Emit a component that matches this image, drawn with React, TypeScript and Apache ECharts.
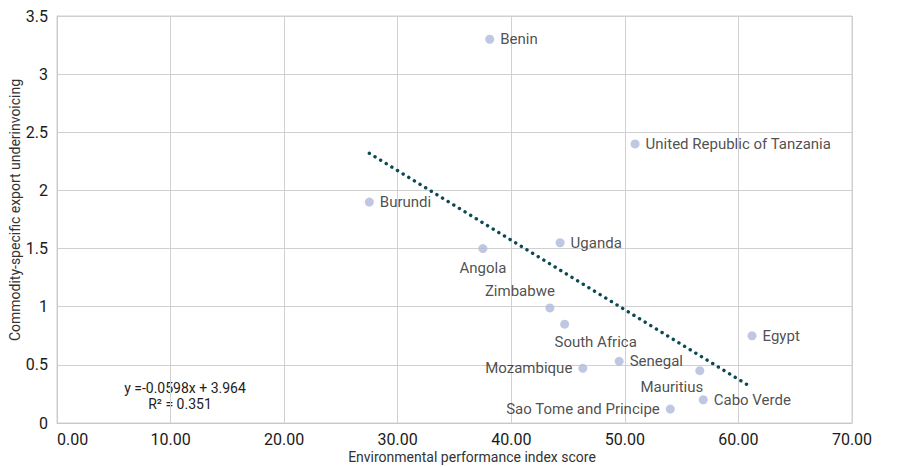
import React, { useEffect, useRef } from "react";
import * as echarts from "echarts";

const countries = [
  "Benin", "United Republic of Tanzania", "Burundi", "Uganda", "Angola",
  "Zimbabwe", "South Africa", "Egypt", "Senegal", "Mozambique",
  "Mauritius", "Cabo Verde", "Sao Tome and Principe",
];
const epiScore = [38.1, 50.9, 27.5, 44.3, 37.5, 43.4, 44.7, 61.2, 49.5, 46.3, 56.6, 56.9, 54.0];
const underinvoicing = [3.3, 2.4, 1.9, 1.55, 1.5, 0.99, 0.85, 0.75, 0.53, 0.47, 0.45, 0.2, 0.12];
const labelSide = ["right", "right", "right", "right", "bottom", "topLeft", "bottomRight", "right", "right", "left", "bottomLeft", "right", "left"];
const trendSlope = -0.0598;
const trendIntercept = 3.964;
const rSquared = 0.351;
const xTicks = [0, 10, 20, 30, 40, 50, 60, 70];
const yTicks = [0, 0.5, 1, 1.5, 2, 2.5, 3, 3.5];

const FONT = "Roboto, 'Liberation Sans', sans-serif";

function labelFor(side: string) {
  const base = { show: true, color: "#222", fontFamily: FONT, fontSize: 15, formatter: "{b}" };
  switch (side) {
    case "bottom":
      return { ...base, position: "bottom", distance: 7 };
    case "bottomRight":
      return { ...base, position: "bottom", offset: [31, 0], distance: 6 };
    case "left":
      return { ...base, position: "left", distance: 6 };
    case "topLeft":
      return { ...base, position: "top", offset: [-30, 0], distance: 5 };
    case "bottomLeft":
      return { ...base, position: "bottom", offset: [-28, -2], distance: 6 };
    default:
      return { ...base, position: "right", distance: 6 };
  }
}

export default function App() {
  const ref = useRef<HTMLDivElement>(null);
  useEffect(() => {
    if (!ref.current) return;
    const chart = echarts.init(ref.current, null, { renderer: "svg" });
    const xMin = Math.min(...epiScore);
    const xMax = Math.max(...epiScore);
    const trend = [
      [xMin, trendSlope * xMin + trendIntercept],
      [xMax, trendSlope * xMax + trendIntercept],
    ];
    const points = countries.map((c, i) => ({
      name: c,
      value: [epiScore[i], underinvoicing[i]],
      label: labelFor(labelSide[i]),
    }));
    chart.setOption({
      animation: false,
      grid: { left: 57, right: 52, top: 16, bottom: 44, containLabel: false },
      xAxis: {
        type: "value",
        min: xTicks[0],
        max: xTicks[xTicks.length - 1],
        interval: 10,
        axisLine: { show: true, lineStyle: { color: "#c8c8c8" } },
        axisTick: { show: false },
        axisLabel: { fontFamily: FONT, fontSize: 16, lineHeight: 16, color: "#1a1a1a", margin: 8, alignMinLabel: "left", formatter: (v: number) => v.toFixed(2) },
        splitLine: { show: true, lineStyle: { color: "#d0d0d0", width: 1 } },
      },
      yAxis: {
        type: "value",
        min: yTicks[0],
        max: yTicks[yTicks.length - 1],
        interval: 0.5,
        axisLine: { show: true, lineStyle: { color: "#c8c8c8" } },
        axisTick: { show: false },
        axisLabel: { fontFamily: FONT, fontSize: 16, lineHeight: 14, color: "#1a1a1a", margin: 9, verticalAlign: "middle" },
        splitLine: { show: true, lineStyle: { color: "#d0d0d0", width: 1 } },
      },
      graphic: [
        { type: "rect", shape: { x: 57, y: 16, width: 904 - 57 - 52, height: 467 - 16 - 44 }, style: { fill: "none", stroke: "#d0d0d0", lineWidth: 1 }, silent: true, z: -1 },
        { type: "text", x: 185, y: 388, style: { text: `y =${trendSlope.toFixed(4)}x + ${trendIntercept.toFixed(3)}`, fontFamily: FONT, fontSize: 14, fill: "#222", align: "center", verticalAlign: "middle" } },
        { type: "text", x: 180, y: 404, style: { text: `R² = ${rSquared.toFixed(3)}`, fontFamily: FONT, fontSize: 14, fill: "#222", align: "center", verticalAlign: "middle" } },
        { type: "text", x: 472, y: 457, style: { text: "Environmental performance index score", fontFamily: FONT, fontSize: 14, fill: "#333", align: "center", verticalAlign: "middle" } },
        { type: "text", x: 15, y: 210, rotation: Math.PI / 2, style: { text: "Commodity-specific export underinvoicing", fontFamily: FONT, fontSize: 14, fill: "#333", align: "center", verticalAlign: "middle" } },
      ],
      series: [
        {
          type: "line",
          data: trend,
          symbol: "none",
          lineStyle: { color: "#0b4a55", width: 3.4, type: [0.1, 6.5], cap: "round" },
          silent: true,
          z: 1,
        },
        {
          type: "scatter",
          data: points,
          symbolSize: 9,
          itemStyle: { color: "#b0b9db" },
          z: 3,
        },
      ],
    });
    return () => chart.dispose();
  }, []);
  return <div ref={ref} style={{ width: 904, height: 467, position: "absolute", left: 0, top: 0 }} />;
}
